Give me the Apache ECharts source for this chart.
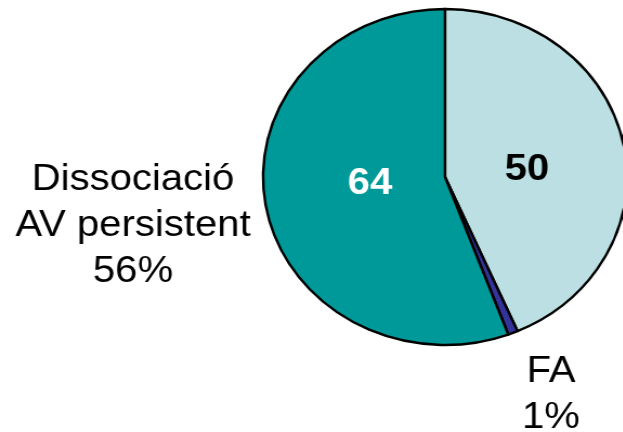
<!DOCTYPE html>
<html>
<head>
<meta charset="utf-8">
<script src="https://cdn.jsdelivr.net/npm/echarts@6/dist/echarts.min.js"></script>
<style>
  html, body { margin: 0; padding: 0; background: #ffffff; overflow: hidden; }
  #wrap { width: 623px; height: 432px; overflow: hidden; position: relative; }
  /* the pie is drawn as a slightly wide ellipse */
  #chart { position: absolute; left: 0; top: 0; height: 432px; transform-origin: 0 0; }
</style>
</head>
<body>
<div id="wrap"><div id="chart"></div></div>
<script>
// Slice names (outer label text), values and colours
const names = ['', 'FA', 'Dissociació\nAV persistent'];
const values = [50, 1, 64];
const colors = ['#bcdfe3', '#333399', '#009999'];
// which labels are drawn
const showValue = [true, false, true];
const showName = [false, true, true];

const STRETCH = 1.083;
const W = 623, H = 432;
const el = document.getElementById('chart');
el.style.width = (W / STRETCH) + 'px';
el.style.transform = 'scaleX(' + STRETCH + ')';

const sx = x => x / STRETCH;
const font = "'Liberation Sans', Arial, Helvetica, sans-serif";

// label anchor points in screen pixels
const valuePos = [[527, 170], null, [370, 184]];
const namePos = [null, [551, 395], [133, 226]];

const seriesData = values.map((v, i) => ({
  name: names[i],
  value: v,
  itemStyle: { color: colors[i] }
}));

const chart = echarts.init(el, null, { renderer: 'canvas' });
const center = [sx(445), 177];
const radius = 168;

chart.setOption({
  animation: false,
  backgroundColor: 'transparent',
  series: [
    {
      type: 'pie',
      center: center,
      radius: radius,
      startAngle: 90,
      clockwise: true,
      silent: true,
      itemStyle: { borderColor: '#000000', borderWidth: 2.4 },
      label: {
        position: 'inside',
        fontFamily: font,
        fontWeight: 'bold',
        fontSize: 37,
        overflow: 'none',
        formatter: p => String(p.value)
      },
      labelLine: { show: false },
      data: seriesData.map((d, i) => ({
        ...d,
        label: {
          show: showValue[i],
          color: i === 2 ? '#ffffff' : '#000000'
        }
      })),
      labelLayout: p => {
        const pos = valuePos[p.dataIndex];
        if (!pos) return {};
        return { x: sx(pos[0]), y: pos[1], align: 'center', verticalAlign: 'middle' };
      }
    },
    {
      type: 'pie',
      center: center,
      radius: radius,
      startAngle: 90,
      clockwise: true,
      silent: true,
      avoidLabelOverlap: false,
      itemStyle: { color: 'rgba(0,0,0,0)', borderWidth: 0 },
      label: {
        position: 'outside',
        fontFamily: font,
        fontSize: 37,
        color: '#000000',
        align: 'center',
        lineHeight: 46,
        overflow: 'none',
        width: 400,
        formatter: p => p.name + '\n' + Math.round(p.percent) + '%'
      },
      labelLine: { show: false },
      data: values.map((v, i) => ({
        name: names[i],
        value: v,
        label: { show: showName[i] }
      })),
      labelLayout: p => {
        const pos = namePos[p.dataIndex];
        if (!pos) return {};
        return { x: sx(pos[0]), y: pos[1], align: 'center', verticalAlign: 'middle' };
      }
    }
  ]
});
</script>
</body>
</html>
